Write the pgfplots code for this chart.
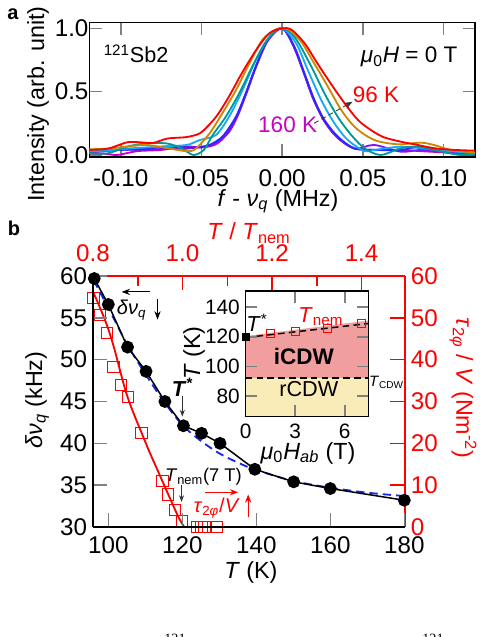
\documentclass[border=0pt]{standalone}
\usepackage{fontspec}
\setmainfont{Liberation Sans}
\newfontfamily\capfont{Liberation Serif}
\usepackage{pgfplots}
\pgfplotsset{compat=1.18}
\usetikzlibrary{arrows.meta}
\definecolor{cgold}{RGB}{204,136,0}
\definecolor{cteal}{RGB}{0,153,153}
\definecolor{ccyan}{RGB}{20,170,250}
\definecolor{cblue}{RGB}{40,40,255}
\definecolor{cpurple}{RGB}{130,20,240}
\definecolor{cmag}{RGB}{200,0,200}
\definecolor{pinkfill}{RGB}{241,158,158}
\definecolor{yellowfill}{RGB}{250,236,185}
\definecolor{bdash}{RGB}{20,40,230}
\newcommand{\itsub}[1]{\textsubscript{\textit{#1}}}
\begin{document}
\begin{tikzpicture}[font=\fontsize{14}{16}\selectfont]
\useasboundingbox (0,0) rectangle (292.2pt,-382.2pt);
\clip (0,0) rectangle (292.2pt,-382.2pt);
\pgfplotsset{
  every axis/.append style={scale only axis, anchor=south west,
    /pgf/number format/assume math mode=true,
    axis line style={line width=0.9pt},
    tick style={line width=0.9pt},
    tick align=inside,
    tick label style={font=\fontsize{14.5}{16}\selectfont},
    label style={font=\fontsize{14}{16}\selectfont}},
}
% ---------------- panel a ----------------
\begin{axis}[at={(53.58pt,-94.2pt)}, width=231.42pt, height=80.58pt,
  xmin=-0.1195, xmax=0.1195, ymin=-0.016, ymax=1.044,
  xtick={-0.1,-0.05,0,0.05,0.1}, xticklabels={-0.10,-0.05,0.00,0.05,0.10},
  ytick={0,0.5,1}, yticklabels={0.0,0.5,1.0},
  major tick length=7.5pt,
  xticklabel style={yshift=-4pt}, yticklabel style={xshift=3pt},
  xlabel={\textit{f} - \textit{ν}\itsub{q} (MHz)},
  ylabel={Intensity (arb. unit)},
  every axis x label/.style={at={(axis description cs:0.489,-0.328)},anchor=center},
  every axis y label/.style={at={(axis description cs:-0.133,0.395)},anchor=center,rotate=90},
  every axis plot/.append style={line width=1.1pt},
]
\addplot[cmag, smooth] coordinates {(-0.1195,0.015) (-0.11,0.01) (-0.102,0.0) (-0.09,0.03) (-0.075,0.04) (-0.059,0.066) (-0.05,0.06) (-0.042,0.079) (-0.036,0.14) (-0.0287,0.29) (-0.023,0.47) (-0.0165,0.69) (-0.009,0.90) (0,1.0) (0.007,0.86) (0.0135,0.65) (0.0195,0.44) (0.026,0.27) (0.034,0.14) (0.045,0.05) (0.06,0.04) (0.0735,0.04) (0.086,0.03) (0.1,0.02) (0.1195,0.0)};
\addplot[cpurple, smooth] coordinates {(-0.1195,0.02) (-0.1,0.04) (-0.084,0.04) (-0.071,0.05) (-0.059,0.05) (-0.048,0.07) (-0.04,0.10) (-0.033,0.18) (-0.0275,0.31) (-0.022,0.49) (-0.016,0.70) (-0.009,0.90) (0,1.0) (0.007,0.86) (0.013,0.66) (0.019,0.45) (0.026,0.27) (0.034,0.14) (0.045,0.05) (0.057,0.079) (0.0735,0.026) (0.086,0.04) (0.1,0.03) (0.1195,0.005)};
\addplot[cblue, smooth] coordinates {(-0.1195,0.03) (-0.1,0.04) (-0.084,0.05) (-0.071,0.066) (-0.059,0.06) (-0.05,0.06) (-0.045,0.079) (-0.037,0.145) (-0.0287,0.30) (-0.0225,0.487) (-0.0163,0.70) (-0.009,0.91) (0,1.0) (0.0076,0.855) (0.0138,0.645) (0.020,0.434) (0.0262,0.276) (0.0345,0.145) (0.0446,0.053) (0.057,0.04) (0.0735,0.04) (0.086,0.066) (0.1,0.04) (0.1195,0.01)};
\addplot[ccyan, smooth] coordinates {(-0.1195,0.03) (-0.108,0.035) (-0.096,0.05) (-0.084,0.06) (-0.071,0.07) (-0.059,0.079) (-0.051,0.118) (-0.041,0.158) (-0.033,0.30) (-0.0246,0.51) (-0.0163,0.75) (-0.008,0.93) (0,1.0) (0.0087,0.88) (0.0159,0.67) (0.0242,0.434) (0.0324,0.25) (0.0407,0.118) (0.051,0.03) (0.057,0.04) (0.0735,0.066) (0.086,0.053) (0.1,0.035) (0.1195,0.013)};
\addplot[cteal, smooth] coordinates {(-0.1195,0.015) (-0.108,0.013) (-0.096,0.066) (-0.084,0.092) (-0.071,0.09) (-0.062,0.05) (-0.055,0.0) (-0.0485,0.04) (-0.043,0.158) (-0.035,0.30) (-0.0266,0.487) (-0.0184,0.70) (-0.0101,0.894) (-0.003,0.99) (0,1.0) (0.004,0.98) (0.0097,0.894) (0.018,0.70) (0.0262,0.487) (0.0345,0.30) (0.0428,0.158) (0.051,0.053) (0.061,0.0) (0.0735,0.053) (0.084,0.066) (0.094,0.04) (0.11,0.0) (0.1195,0.01)};
\addplot[cgold, smooth] coordinates {(-0.1195,0.045) (-0.108,0.05) (-0.096,0.066) (-0.084,0.079) (-0.071,0.053) (-0.059,0.03) (-0.0535,0.05) (-0.045,0.17) (-0.037,0.33) (-0.0287,0.51) (-0.0204,0.72) (-0.0122,0.91) (-0.004,0.99) (0,1.0) (0.004,0.99) (0.0118,0.894) (0.020,0.72) (0.0283,0.54) (0.0366,0.355) (0.0448,0.223) (0.053,0.145) (0.059,0.11) (0.066,0.092) (0.0735,0.084) (0.086,0.097) (0.094,0.079) (0.1045,0.04) (0.1195,0.018)};
\addplot[red, smooth] coordinates {(-0.1195,0.04) (-0.108,0.05) (-0.096,0.10) (-0.088,0.10) (-0.08,0.095) (-0.071,0.13) (-0.06,0.14) (-0.053,0.16) (-0.049,0.19) (-0.041,0.30) (-0.033,0.46) (-0.025,0.645) (-0.016,0.83) (-0.008,0.96) (0,1.0) (0.006,0.987) (0.014,0.88) (0.022,0.72) (0.030,0.566) (0.0386,0.41) (0.047,0.276) (0.055,0.197) (0.063,0.14) (0.0735,0.105) (0.084,0.079) (0.094,0.053) (0.1066,0.04) (0.1195,0.034)};
\node[font=\fontsize{13}{15}\selectfont] at (axis cs:-0.0905,0.797) {\textsuperscript{121}Sb2};
\node[font=\fontsize{13.5}{15}\selectfont] at (axis cs:0.0787,0.773) {\textit{μ}\textsubscript{0}\textit{H} = 0 T};
\node[red, font=\fontsize{13.5}{15}\selectfont] at (axis cs:0.0582,0.474) {96 K};
\node[cmag, font=\fontsize{13.5}{15}\selectfont] at (axis cs:0.0034,0.237) {160 K};
\draw[densely dashed, line width=0.5pt, black!80, -{Stealth[length=5pt]}] (axis cs:0.0198,0.25) -- (axis cs:0.0436,0.42);
\end{axis}
% ---------------- panel b: right axis (tau) ----------------
\begin{axis}[at={(55.8pt,-316.2pt)}, width=187.2pt, height=150.6pt,
  xmin=95.86, xmax=180.19, ymin=0, ymax=60,
  hide x axis, axis y line*=right,
  axis line style={red, line width=0.9pt}, tick style={red, line width=0.9pt},
  ytick={0,10,...,60}, yticklabel style={red},
  major tick length=9pt,
  ylabel={\textit{τ}\textsubscript{2\textit{φ}} / \textit{V} (Nm\textsuperscript{-2})},
  every axis y label/.style={at={(axis description cs:1.186,0.554)},anchor=center,rotate=-90,red},
]
\addplot[red, line width=1.1pt, smooth] coordinates {(95.7,56.5) (97,54) (98.5,50.8) (100,47.3) (101.5,43) (103,38) (104.2,34) (105.3,30.8) (107,26.8) (109,22.5) (111,18.2) (113,14.2) (115,10.2) (117,6.2) (119,2.3) (120.5,0)};
\addplot[only marks, red, mark=square, mark size=3.4pt, mark options={line width=0.6pt}] coordinates {(96,54.8) (97.8,50.7) (99.6,46.3) (101.4,38.3) (103.4,34.0) (105.3,31.0) (109,22.4) (114.6,11.0) (116.2,7.8) (118,4.1) (120,1.4) (123.9,0) (125.2,0) (126,0) (129.3,0)};
\end{axis}
% ---------------- panel b: top axis (T/Tnem) ----------------
\begin{axis}[at={(55.8pt,-316.2pt)}, width=187.2pt, height=150.6pt,
  xmin=0.8, xmax=1.497, ymin=0, ymax=1,
  hide y axis, axis x line*=top,
  axis line style={red, line width=0.9pt}, tick style={red, line width=0.9pt},
  xtick={0.8,1.0,1.2,1.4}, xticklabels={0.8,1.0,1.2,1.4},
  minor xtick={0.9,1.1,1.3},
  xticklabel style={red, yshift=5pt},
  major tick length=8.5pt, minor tick length=6pt,
  xlabel={\textit{T} / \textit{T}\textsubscript{nem}},
  every axis x label/.style={at={(axis description cs:0.5,1.171)},anchor=center,red},
]
\end{axis}
% ---------------- panel b: main axis ----------------
\begin{axis}[at={(55.8pt,-316.2pt)}, width=187.2pt, height=150.6pt,
  xmin=95.86, xmax=180.19, ymin=30, ymax=60,
  axis x line*=bottom, axis y line*=left,
  xtick={100,120,...,180}, ytick={30,35,...,60},
  major tick length=8.5pt,
  xticklabel style={yshift=-2pt},
  xlabel={\textit{T} (K)}, ylabel={\textit{δν}\itsub{q} (kHz)},
  every axis x label/.style={at={(axis description cs:0.506,-0.183)},anchor=center},
  every axis y label/.style={at={(axis description cs:-0.179,0.506)},anchor=center,rotate=90},
  clip=false,
]
\addplot[bdash, line width=1.1pt, dash pattern=on 5pt off 3pt, smooth] coordinates {(96,59.5) (100,56.2) (105,51.9) (110,48.3) (115,45.0) (120,42.2) (125,40.3) (130,38.8) (135,37.7) (140,36.8) (150,35.5) (160,34.7) (170,34.1) (180,33.7)};
\addplot[black, line width=0.9pt, mark=*, mark size=3.4pt] coordinates {(96.2,59.7) (100,56.6) (105.2,51.5) (110.2,48.6) (115.3,45.0) (120.3,42.1) (125.2,41.2) (130.2,40.0) (139.6,36.9) (150.1,35.4) (160,34.6) (180,33.2)};
% annotations
\draw[line width=0.5pt, -{Stealth[length=5pt]}] (axis cs:111.3,58.1) -- (axis cs:103.6,58.1);
\node[font=\fontsize{12}{14}\selectfont] at (axis cs:106.3,55.9) {\textit{δν}\itsub{q}};
\draw[line width=0.5pt, -{Stealth[length=5pt]}] (axis cs:113.3,57.2) -- (axis cs:113.3,54.8);
\node[font=\fontsize{13}{15}\bfseries] at (axis cs:120.1,46.7) {\textit{T}\textsuperscript{*}};
\draw[line width=0.5pt, black!80, -{Stealth[length=4pt]}] (axis cs:120,45.6) -- (axis cs:120,43.2);
\node[font=\fontsize{11}{13}\selectfont] at (axis cs:125.7,36.0) {\textit{T}\textsubscript{nem}(7 T)};
\draw[line width=0.5pt, black!80, -{Stealth[length=4pt]}] (axis cs:119.8,35.0) -- (axis cs:119.8,33.0);
\draw[red, line width=0.6pt, -{Stealth[length=5pt]}] (axis cs:126.1,34.15) -- (axis cs:135.1,34.15);
\node[red, font=\fontsize{12}{14}\selectfont] at (axis cs:129.3,32.2) {\textit{τ}\textsubscript{2\textit{φ}}/\textit{V}};
\draw[red, line width=0.6pt, -{Stealth[length=5pt]}] (axis cs:137.8,31.2) -- (axis cs:137.8,33.9);
\end{axis}
% ---------------- inset ----------------
\begin{axis}[at={(147.42pt,-249.9pt)}, width=73.8pt, height=75.3pt,
  xmin=0, xmax=7.45, ymin=66, ymax=151,
  xtick={0,3,6}, ytick={80,100,120,140},
  major tick length=7pt,
  axis background/.style={fill=white},
  axis on top, clip=false,
  tick label style={font=\fontsize{12.5}{14}\selectfont},
  label style={font=\fontsize{12.5}{14}\selectfont},
  xticklabel style={yshift=-1pt},
  xlabel={\textit{μ}\textsubscript{0}\textit{H}\itsub{ab} (T)},
  ylabel={\textit{T} (K)},
  every axis x label/.style={at={(axis description cs:0.507,-0.293)},anchor=center},
  every axis y label/.style={at={(axis description cs:-0.42,0.506)},anchor=center,rotate=90},
]
\addplot[fill=yellowfill, draw=none] coordinates {(0,66) (7.45,66) (7.45,92.2) (0,92.2)} -- cycle;
\addplot[fill=pinkfill, draw=none] coordinates {(0,92.2) (7.45,92.2) (7.45,131) (0,120.5)} -- cycle;
\addplot[black, line width=0.9pt, dash pattern=on 4pt off 2.5pt] coordinates {(0,92.2) (7.45,92.2)};
\addplot[black, line width=0.9pt, dash pattern=on 4pt off 2.5pt] coordinates {(0,119.5) (7.45,129)};
\addplot[only marks, red, mark=square, mark size=2.4pt, mark options={line width=0.6pt}] coordinates {(1.5,122) (3.0,123.6) (4.95,125.7) (7.0,128.9)};
\addplot[only marks, black, mark=square*, mark size=2.2pt] coordinates {(0,120)};
\node[font=\fontsize{13}{15}\selectfont] at (axis cs:0.68,129.5) {\textit{T}\textsuperscript{*}};
\node[red, font=\fontsize{13}{15}\selectfont] at (axis cs:4.55,133.8) {\textit{T}\textsubscript{nem}};
\node[font=\fontsize{13.5}{15}\bfseries] at (axis cs:3.52,106.8) {iCDW};
\node[font=\fontsize{13}{15}\selectfont] at (axis cs:3.82,84.3) {rCDW};
\node[font=\fontsize{9}{10}\selectfont] at (axis cs:8.53,89.2) {\textit{T}\textsubscript{CDW}};
\end{axis}
% ---------------- panel letters and caption fragments ----------------
\begin{scope}[x=0.6pt,y=-0.6pt]
\node[font=\fontsize{12}{14}\bfseries] at (13,14) {a};
\node[font=\fontsize{12}{14}\bfseries] at (14,228.5) {b};
\node[font=\fontsize{8.5}{10}\capfont] at (175,638.5) {121};
\node[font=\fontsize{8.5}{10}\capfont] at (433,638.5) {121};
\end{scope}
\end{tikzpicture}
\end{document}
